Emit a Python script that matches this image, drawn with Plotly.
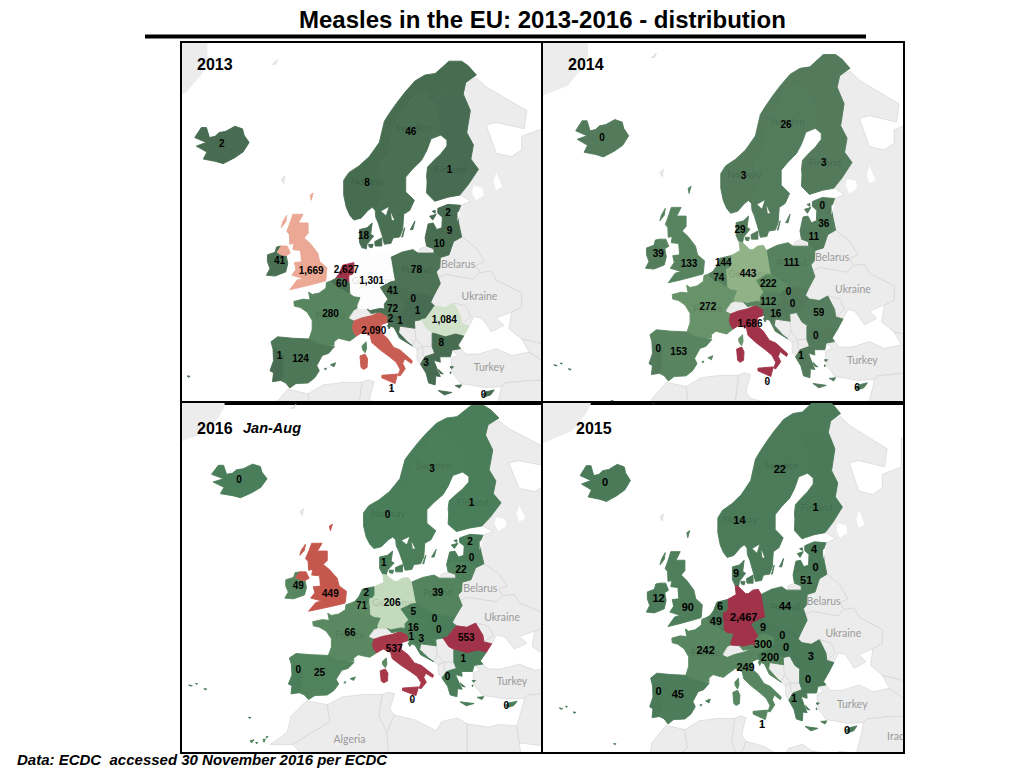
import math
import plotly.graph_objects as go
from plotly.colors import sample_colorscale

TITLE = "Measles in the EU: 2013-2016 - distribution"
SOURCE = "Data: ECDC  accessed 30 November 2016 per ECDC"
YEARS = ["2013", "2014", "2016", "2015"]

COUNTRIES = ["Iceland", "Norway", "Sweden", "Finland", "Denmark", "Estonia", "Latvia", "Lithuania",
             "Poland", "Germany", "Netherlands", "Belgium", "Ireland", "United Kingdom", "France",
             "Spain", "Portugal", "Italy", "Czechia", "Austria", "Slovakia", "Hungary", "Slovenia",
             "Croatia", "Romania", "Bulgaria", "Greece", "Malta", "Cyprus"]
CASES_2013 = [2, 8, 46, 1, 18, 2, 9, 10, 78, 1301, 2627, 60, 41, 1669, 280, 124, 1, 2090, 41, 72, 0, 1, 2, 1, 1084, 8, 3, 1, 0]
CASES_2014 = [0, 3, 26, 3, 29, 0, 36, 11, 111, 443, 144, 74, 39, 133, 272, 153, 0, 1686, 222, 112, 0, 0, None, 16, 59, 0, 1, 0, 6]
CASES_2015 = [0, 14, 22, 1, 9, 4, 0, 51, 44, 2467, 6, 49, 12, 90, 242, 45, 0, 249, 9, 300, 0, 0, None, 200, 3, 0, 1, 1, 0]
CASES_2016 = [0, 0, 3, 1, 1, 2, 0, 22, 39, 206, 2, 71, 49, 449, 66, 25, 0, 537, 5, 16, 0, 0, 1, 3, 553, 1, 0, 0, 0]

LABEL_LON = [-19, 9.6, 18.2, 25.8, 8.9, 25.5, 25.8, 23.8, 19.3, 10.5, 5.5, 4.6, -7.6, -1.4, 2.4, -3.5, -7.6, 10.9, 14.6, 14.6, 18.7, 19.5, 14.2, 16.1, 24.8, 24.2, 21.2, 14.4, 32.5]
LABEL_LAT = [65, 61.6, 66, 62.8, 56.2, 58.7, 56.8, 55.4, 52.4, 51, 52.4, 50.6, 53.4, 52.3, 46.8, 40.4, 40.9, 44.4, 49.8, 47.5, 48.8, 47.2, 46.1, 45.8, 46, 42.7, 39.8, 35.8, 34.8]

NAME_TEXT = ["Sweden", "Norway", "Finland", "Poland", "France", "Germany"]
NAME_LON = [18.5, 9.8, 26.0, 19.3, 2.4, 10.5]
NAME_LAT = [66.3, 61.7, 62.8, 52.4, 46.5, 51.0]
GREY_NAME_TEXT = ["Belarus", "Ukraine", "Turkey", "Algeria", "Libya", "Iraq"]
GREY_NAME_LON = [27.5, 31.7, 33.6, 2.3, 17.1, 42.9]
GREY_NAME_LAT = [53.0, 49.0, 39.0, 28.5, 27.0, 33.9]

# Tableau-style red-green diverging scale, on value / panel maximum
LOW_GREEN = {"2013": "#476c51", "2014": "#527a5b", "2015": "#4a7a58", "2016": "#4a7d59"}
SCALE = [[0.13, "#5b8a62"], [0.26, "#8fb185"], [0.37, "#c2dbbb"],
         [0.42, "#d3e3cc"], [0.5, "#ffffff"], [0.635, "#eba995"], [0.81, "#c5574d"], [1.0, "#a03249"]]

SHAPES = {
    "Iceland": [[(-24.3,65.6),(-23.0,66.4),(-22.0,66.4),(-21.4,65.6),(-20.3,65.7),(-19.5,66.0),(-18.2,66.1),(-16.4,66.5),(-14.9,66.3),(-14.6,65.8),(-13.6,65.2),(-14.8,64.4),(-16.5,63.9),(-18.7,63.4),(-20.2,63.6),(-22.6,63.8),(-21.9,64.4),(-24.0,64.9),(-22.0,65.2)]],
    "Norway": [[(5.0,61.9),(5.0,60.5),(5.5,59.3),(6.2,58.5),(7.0,58.0),(8.4,58.2),(9.8,59.0),(10.6,59.3),(11.2,59.0),(12.3,60.1),(12.6,61.3),(12.1,61.7),(12.2,63.5),(13.9,64.0),(14.1,65.0),(14.5,66.1),(16.4,67.5),(18.2,68.5),(20.1,69.0),(20.6,69.1),(23.7,68.7),(25.7,69.1),(28.5,68.9),(29.0,69.7),(31.1,70.2),(29.5,70.8),(28.2,71.1),(25.7,71.1),(23.0,70.3),(21.0,70.2),(19.0,69.8),(17.0,69.0),(15.5,68.3),(14.0,67.5),(13.0,66.9),(12.0,65.2),(11.0,64.6),(10.0,64.0),(8.0,63.2),(6.0,62.6)]],
    "Sweden": [[(11.2,59.0),(11.3,58.3),(11.8,57.7),(12.6,56.3),(13.0,55.4),(14.3,55.5),(14.7,56.1),(16.0,56.2),(16.6,57.0),(16.8,58.6),(18.0,59.0),(18.9,60.0),(17.2,60.8),(17.2,62.2),(18.5,62.9),(20.3,63.7),(21.3,64.5),(22.2,65.5),(24.1,65.8),(23.7,67.2),(23.5,67.9),(20.6,69.1),(20.1,69.0),(18.2,68.5),(16.4,67.5),(14.5,66.1),(14.1,65.0),(13.9,64.0),(12.2,63.5),(12.1,61.7),(12.6,61.3),(12.3,60.1)],
               [(18.1,57.0),(19.0,57.9),(18.6,57.0)], [(16.4,56.2),(17.0,57.2),(16.6,56.2)]],
    "Finland": [[(24.1,65.8),(25.3,65.4),(25.3,64.9),(24.0,64.2),(23.0,63.8),(21.5,63.1),(21.3,62.3),(21.4,61.8),(21.3,60.7),(22.9,59.9),(25.5,60.3),(27.8,60.5),(29.5,61.5),(31.5,62.9),(30.0,63.8),(30.5,65.0),(29.2,66.0),(29.9,67.7),(28.5,68.9),(25.7,69.1),(23.7,68.7),(20.6,69.1),(23.5,67.9),(23.7,67.2)]],
    "Denmark": [[(8.1,55.6),(8.1,57.0),(9.6,57.2),(10.6,57.7),(10.3,56.5),(10.9,56.3),(9.6,55.4),(9.4,54.8),(8.7,54.9)],
                [(11.1,55.7),(12.5,56.1),(12.5,55.2),(11.2,55.2)],
                [(9.9,55.4),(10.8,55.4),(10.6,55.0),(10.0,55.1)]],
    "Estonia": [[(23.5,59.2),(25.5,59.6),(28.0,59.5),(27.4,58.7),(27.6,57.7),(25.3,57.9),(24.4,58.3),(23.5,58.7)],
                [(21.9,58.4),(23.2,58.6),(22.5,58.0)], [(22.4,58.9),(23.0,59.0),(23.0,58.7)]],
    "Latvia": [[(21.0,56.1),(21.6,57.6),(22.6,57.7),(23.3,57.0),(24.3,57.2),(24.4,58.3),(25.3,57.9),(27.6,57.7),(28.2,56.2),(26.6,55.7),(25.0,56.3),(22.0,56.4)]],
    "Lithuania": [[(21.0,56.1),(22.0,56.4),(25.0,56.3),(26.6,55.7),(25.7,54.2),(24.0,53.9),(22.8,54.4),(22.7,54.9),(21.3,55.2)]],
    "Poland": [[(14.2,53.9),(16.4,54.5),(18.6,54.8),(19.6,54.4),(22.8,54.4),(24.0,53.9),(23.9,52.7),(23.2,52.2),(23.6,51.5),(24.0,50.8),(22.6,49.1),(21.0,49.4),(18.8,49.5),(16.9,50.3),(15.0,51.1),(14.7,52.1),(14.4,53.2)]],
    "Germany": [[(7.0,53.3),(8.0,53.6),(8.9,53.9),(8.7,54.9),(9.4,54.8),(10.9,54.0),(11.5,54.0),(12.4,54.4),(13.6,54.5),(14.2,53.9),(14.4,53.2),(14.7,52.1),(15.0,51.1),(14.3,51.0),(12.2,50.3),(13.7,48.8),(13.0,48.2),(13.0,47.5),(12.2,47.6),(10.2,47.3),(9.6,47.5),(7.6,47.6),(7.6,48.0),(8.2,49.0),(7.0,49.1),(6.2,49.5),(6.1,50.8),(6.0,51.0),(6.0,51.8),(6.7,51.9),(7.0,52.2)]],
    "Netherlands": [[(3.4,51.4),(4.1,52.0),(4.8,53.0),(7.0,53.3),(7.0,52.2),(6.7,51.9),(6.0,51.8),(6.0,51.0),(5.7,50.8),(5.0,51.4),(4.3,51.4)]],
    "Belgium": [[(2.5,51.1),(3.4,51.4),(4.3,51.4),(5.0,51.4),(5.7,50.8),(6.0,51.0),(6.1,50.8),(6.2,49.5),(5.8,49.5),(4.8,50.0),(4.2,50.0),(3.2,50.5),(2.6,50.8)]],
    "Ireland": [[(-10.0,54.2),(-8.5,54.5),(-8.2,55.1),(-7.3,55.2),(-8.1,54.5),(-7.3,54.2),(-6.3,54.1),(-6.0,53.2),(-6.4,52.2),(-8.5,51.7),(-10.2,51.8),(-9.5,52.6),(-10.0,53.4)]],
    "United Kingdom": [[(-5.0,58.6),(-3.0,58.6),(-3.9,57.7),(-2.0,57.7),(-2.0,56.6),(-2.8,56.1),(-1.6,55.5),(-0.1,54.4),(0.3,53.4),(1.7,52.7),(1.5,51.3),(1.4,51.1),(-1.0,50.7),(-3.5,50.3),(-5.6,50.0),(-4.2,51.2),(-3.0,51.4),(-5.2,51.8),(-4.4,52.5),(-4.7,53.3),(-3.3,53.4),(-3.5,54.7),(-5.0,54.8),(-4.8,55.5),(-5.6,55.4),(-5.7,56.5),(-6.2,56.8),(-5.5,57.8)],
                       [(-7.3,55.2),(-6.1,55.2),(-5.5,54.4),(-6.3,54.1),(-7.3,54.2),(-8.1,54.5)],
                       [(-7.0,57.8),(-6.2,58.5),(-6.4,57.8),(-7.3,57.2)], [(-1.4,60.0),(-1.0,60.7),(-1.6,60.5)]],
    "France": [[(2.5,51.1),(2.6,50.8),(3.2,50.5),(4.2,50.0),(4.8,50.0),(5.8,49.5),(6.2,49.5),(7.0,49.1),(8.2,49.0),(7.6,48.0),(7.6,47.6),(7.0,47.4),(6.1,46.5),(6.0,46.2),(7.0,45.9),(6.7,45.0),(7.0,44.3),(7.5,43.8),(6.2,43.1),(5.0,43.3),(4.0,43.5),(3.1,43.0),(3.1,42.5),(1.5,42.5),(0.0,42.7),(-1.8,43.4),(-1.2,44.7),(-1.2,46.0),(-2.2,47.1),(-3.5,47.7),(-4.7,47.9),(-4.8,48.5),(-3.0,48.8),(-1.6,48.7),(-1.9,49.7),(-1.2,49.4),(0.2,49.6),(1.5,50.2),(1.6,50.9)],
               [(9.4,43.0),(9.5,42.0),(9.2,41.4),(8.7,41.9),(8.6,42.4)]],
    "Spain": [[(-9.3,43.0),(-8.0,43.7),(-5.0,43.5),(-1.8,43.4),(0.0,42.7),(1.5,42.5),(3.2,42.3),(2.0,41.3),(0.8,41.0),(-0.3,39.5),(0.2,38.7),(-0.7,37.6),(-2.0,36.8),(-4.4,36.7),(-5.6,36.0),(-6.4,36.8),(-7.4,37.2),(-7.0,38.2),(-7.0,39.7),(-6.8,41.0),(-8.2,41.9),(-8.9,41.9)],
              [(2.4,39.6),(3.4,39.9),(3.1,39.3)], [(1.2,39.0),(1.6,39.1),(1.4,38.8)],
              [(-16.9,28.4),(-16.1,28.6),(-16.6,28.0)], [(-15.8,28.1),(-15.4,28.1),(-15.6,27.8)], [(-14.4,28.7),(-13.9,28.7),(-14.2,28.1)], [(-13.8,29.2),(-13.4,29.2),(-13.7,28.9)]],
    "Portugal": [[(-8.9,41.9),(-8.2,41.9),(-6.8,41.0),(-7.0,39.7),(-7.0,38.2),(-7.4,37.2),(-9.0,37.0),(-8.8,38.4),(-9.5,38.7),(-8.8,40.2)],
                 [(-28.7,38.55),(-28.0,38.4),(-28.5,38.35)], [(-27.4,38.8),(-27.0,38.75),(-27.2,38.6)], [(-25.8,37.9),(-25.2,37.85),(-25.5,37.7)], [(-17.2,32.8),(-16.7,32.8),(-16.9,32.6)]],
    "Italy": [[(7.5,43.8),(7.0,44.3),(6.7,45.0),(7.0,45.9),(8.5,46.3),(10.4,46.6),(12.2,47.1),(13.7,46.5),(13.6,45.7),(12.4,45.4),(12.3,44.3),(13.6,43.5),(14.8,42.2),(16.1,41.8),(18.5,40.2),(18.3,39.8),(17.0,40.5),(16.6,39.8),(17.1,39.0),(16.1,37.9),(15.7,38.0),(16.1,38.9),(15.3,40.0),(14.0,40.8),(12.2,41.8),(10.5,42.9),(10.2,43.9),(8.8,44.4)],
              [(12.5,38.0),(15.6,38.2),(15.1,36.7),(12.5,37.6)],
              [(8.2,40.9),(9.2,41.2),(9.7,40.5),(9.6,39.2),(8.9,38.9),(8.4,39.2)]],
    "Czechia": [[(12.2,50.3),(14.3,51.0),(15.0,51.1),(16.9,50.3),(18.8,49.5),(16.9,48.6),(15.0,49.0),(13.7,48.8)]],
    "Austria": [[(9.6,47.5),(10.2,47.3),(12.2,47.6),(13.0,47.5),(13.0,48.2),(13.7,48.8),(15.0,49.0),(16.9,48.6),(17.1,48.0),(16.1,46.9),(13.7,46.5),(12.2,47.1),(10.4,46.9)]],
    "Slovakia": [[(16.9,48.6),(18.8,49.5),(21.0,49.4),(22.6,49.1),(22.1,48.4),(20.0,48.2),(18.8,47.9),(17.1,48.0)]],
    "Hungary": [[(16.1,46.9),(17.1,48.0),(18.8,47.9),(20.0,48.2),(22.1,48.4),(22.9,47.9),(21.1,46.2),(20.3,46.1),(18.9,45.9),(16.5,46.5)]],
    "Slovenia": [[(13.6,45.7),(13.7,46.5),(16.1,46.9),(16.5,46.5),(15.5,45.8),(13.9,45.5)]],
    "Croatia": [[(13.6,45.3),(13.9,45.5),(15.5,45.8),(16.5,46.5),(18.9,45.9),(19.0,44.9),(16.0,45.2),(15.8,44.3),(17.5,43.0),(18.5,42.4),(16.0,43.5),(14.9,45.0),(14.3,45.2),(13.9,44.8)]],
    "Romania": [[(20.3,46.1),(21.1,46.2),(22.9,47.9),(24.9,47.7),(26.6,48.3),(28.0,46.5),(28.2,45.5),(29.7,45.2),(28.6,43.8),(27.0,44.1),(25.0,43.7),(22.7,44.2),(21.4,44.8)]],
    "Bulgaria": [[(22.4,44.2),(22.7,44.2),(25.0,43.7),(27.0,44.1),(28.6,43.8),(27.5,42.5),(28.0,42.0),(26.3,41.8),(24.0,41.5),(22.9,41.3),(22.4,42.3)]],
    "Greece": [[(20.1,39.7),(21.0,40.8),(22.9,41.3),(24.0,41.5),(26.3,41.8),(26.0,40.8),(23.9,40.8),(24.0,40.0),(22.7,40.3),(23.4,38.9),(24.0,37.8),(23.1,37.9),(23.0,36.5),(21.7,36.8),(21.2,38.3)],
               [(23.6,35.6),(26.3,35.3),(24.8,34.9)], [(25.9,39.3),(26.6,39.3),(26.2,39.0)], [(25.9,38.5),(26.1,38.5),(26.0,38.2)], [(26.9,36.4),(28.2,36.5),(27.8,36.0)], [(23.6,38.9),(24.6,38.2),(24.0,38.3)]],
    "Malta": [[(14.2,36.05),(14.55,35.85),(14.3,35.85)]],
    "Cyprus": [[(32.3,35.0),(33.0,35.4),(34.6,35.7),(33.9,34.9),(32.7,34.6)]],
}

GREY_SHAPES = [
    [(-7.3,62.0),(-6.6,62.3),(-6.8,61.6)],
    [(-9.0,70.9),(-8.0,71.2),(-8.4,70.9)],
    [(28.5,68.9),(29.0,69.7),(31.1,70.0),(33,69.4),(41,67.7),(40.5,66.3),(35,66.8),(33,66.6),(35,64.3),(38,64.0),(40,64.6),(40,65.7),(44,66.3),(44,68.5),(60,69),(60,40),(48,42),(40,43.4),(37.5,44.8),(38,47.1),(40,47.8),(40,49.6),(35,51.2),(34,52.3),(31.8,52.1),(31,53),(32.7,53.4),(31,55),(28.2,56.2),(27.6,57.7),(27.4,58.7),(28.0,59.5),(30,59.9),(28,60.5),(29.5,61.5),(31.5,62.9),(30.0,63.8),(30.5,65.0),(29.2,66.0),(29.9,67.7)],
    [(19.6,54.4),(22.8,54.4),(22.7,54.9),(21.3,55.2),(20.0,54.9)],
    [(24.0,53.9),(23.9,52.7),(23.2,52.2),(23.6,51.5),(25,51.9),(30.5,51.3),(31.8,52.1),(31,53),(32.7,53.4),(31,55),(28.2,56.2),(26.6,55.7),(25.7,54.2)],
    [(23.6,51.5),(25,51.9),(30.5,51.3),(31.8,52.1),(34,52.3),(35,51.2),(40,49.6),(40,47.8),(38,47.1),(35,46.3),(36.5,45.3),(34,44.4),(33,45.5),(32,46.3),(30.7,46.5),(29.7,45.3),(28.2,45.5),(30,46.5),(29,47.9),(26.6,48.3),(24.9,47.7),(22.9,47.9),(22.1,48.4),(22.6,49.1),(24.0,50.8)],
    [(26.6,48.3),(29,47.9),(30,46.5),(28.2,45.5),(28.0,46.5)],
    [(6.0,46.2),(7.6,47.6),(9.6,47.5),(10.4,46.9),(10.4,46.6),(8.5,46.3),(7.0,45.9)],
    [(16.0,45.2),(19.0,44.9),(19.2,43.5),(18.5,42.4),(17.5,43.0),(15.8,44.3)],
    [(19.0,44.9),(18.9,45.9),(20.3,46.1),(21.4,44.8),(22.7,44.2),(22.4,44.2),(22.4,42.3),(20.5,42.3),(19.2,43.5)],
    [(18.5,42.4),(19.2,43.5),(20.5,42.3),(19.4,41.9)],
    [(19.4,41.9),(20.5,42.3),(20.6,41.0),(21.0,40.8),(20.1,39.7),(19.4,40.4)],
    [(20.5,42.3),(22.4,42.3),(22.9,41.3),(21.0,40.8),(20.6,41.0)],
    [(26.3,41.8),(28.0,42.0),(29,41.2),(31.5,41.2),(35,42),(38,41),(41.5,41.5),(44.5,40),(44.5,37.2),(42,37.2),(36.7,36.8),(36,36.2),(32.5,36.1),(30.5,36.4),(28,36.7),(27.3,37.5),(26.3,38.5),(26.2,39.5),(26.1,40.6),(27.5,41.0)],
    [(41.5,41.5),(40,43.4),(48,42),(60,40),(60,37),(44.5,37.2),(44.5,40)],
    [(36,36.2),(36.7,36.8),(42,37.2),(60,37),(60,25),(35,28),(34.5,31.2),(35.7,35)],
    [(-13,27.7),(-9.7,30),(-9,33),(-6,35.8),(-2,35.1),(-1.5,32),(-8.7,27.7)],
    [(-2,35.1),(1,36.5),(5,36.9),(8.6,36.9),(8,33),(9.5,30),(10,24),(12,23),(3,15),(-8.7,27.7),(-1.5,32)],
    [(8.6,36.9),(9.8,37.3),(11,37),(10.3,35),(10.1,34.2),(11,33.2),(9.5,30),(8,33)],
    [(11,33.2),(15,32.3),(19,30.3),(20,32),(23,32.7),(25,31.6),(25,15),(14,15),(12,23),(10,24),(9.5,30)],
    [(25,31.6),(29,31),(31,31.5),(34.5,31.2),(35,28),(37,15),(25,15)],
]
GREENLAND = [(-21.8,71.0),(-23,70.2),(-26,69.0),(-31,68.3),(-34,67.8),(-34,75.0),(-21.8,75.0)]

LAKES = [
    [(31,60),(32.5,60.5),(32.3,61.2),(30.5,61.4),(30.3,60.7)],
    [(35,61),(36.2,61.3),(35,62.6),(34.5,61.8)],
    [(27.4,57.9),(28.0,58.9),(27.4,58.8)],
    [(12.4,58.9),(13.8,59.3),(13.3,58.5)],
    [(14.3,58.7),(14.9,58.0),(14.5,58.0)],
]

VIEWS = {  # lon left/right, Mercator y bottom/top, panel pixel box
    "2013": ([-26.8, 43.8], [35.7, 106.3], (182, 541, 43, 403)),
    "2014": ([-30.9, 41.8], [34.3, 105.0], (543, 903, 43, 403)),
    "2016": ([-30.0, 39.2], [27.2, 103.3], (182, 541, 403, 752)),
    "2015": ([-32.2, 44.4], [33.1, 102.1], (543, 903, 403, 752)),
}
PANEL_CASES = {"2013": CASES_2013, "2014": CASES_2014, "2015": CASES_2015, "2016": CASES_2016}
LABEL_SIZE = {"2013": 10, "2014": 10, "2016": 10, "2015": 11}
W, H = 1024, 768


def merc(lat):
    return math.degrees(math.log(math.tan(math.radians(45 + lat / 2))))


def ring_xy(rings):
    xs, ys = [], []
    for ring in rings:
        for lon, lat in ring + ring[:1]:
            xs.append(lon)
            ys.append(merc(lat))
        xs.append(None)
        ys.append(None)
    return xs, ys


fig = go.Figure()
layout_shapes = [dict(type="line", xref="paper", yref="paper", x0=145 / W, x1=866 / W, y0=1 - 36.5 / H, y1=1 - 36.5 / H,
                      line=dict(color="black", width=4))]
for i, year in enumerate(YEARS):
    ax = "" if i == 0 else str(i + 1)
    xref, yref = "x" + ax, "y" + ax
    xr, yr, (x0, x1, y0, y1) = VIEWS[year]
    fig.update_layout({
        "xaxis" + ax: dict(domain=[x0 / W, x1 / W], range=xr, visible=True, showgrid=False, zeroline=False,
                           showticklabels=False, ticks="", showline=True, mirror=True, linecolor="black",
                           linewidth=2, anchor=yref),
        "yaxis" + ax: dict(domain=[1 - y1 / H, 1 - y0 / H], range=yr, visible=True, showgrid=False, zeroline=False,
                           showticklabels=False, ticks="", showline=True, mirror=True, linecolor="black",
                           linewidth=2, anchor=xref),
    })
    # Greenland runs off the panel corner, so it is an axis-bound path clipped by the subplot
    path = "M " + " L ".join(f"{lon} {merc(lat):.3f}" for lon, lat in GREENLAND) + " Z"
    layout_shapes.append(dict(type="path", path=path, xref=xref, yref=yref, fillcolor="#ececec",
                              line=dict(width=0), layer="below"))
    for ring in GREY_SHAPES:
        gx, gy = ring_xy([ring])
        fig.add_trace(go.Scatter(x=gx, y=gy, mode="lines", fill="toself", fillcolor="#ececec",
                                 line=dict(color="#d2d2d2", width=0.6, simplify=False), hoverinfo="skip", xaxis=xref, yaxis=yref))
    vals = PANEL_CASES[year]
    top = max(v for v in vals if v is not None)
    scale = [[0.0, LOW_GREEN[year]]] + SCALE
    for name, v in zip(COUNTRIES, vals):
        cx, cy = ring_xy(SHAPES[name])
        t = (v or 0) / top
        colour = sample_colorscale(scale, [t], colortype="rgb")[0]
        fig.add_trace(go.Scatter(x=cx, y=cy, mode="lines", fill="toself", fillcolor=colour,
                                 line=dict(color=colour, width=0.9, simplify=False), name=name, text=f"{name}: {v}", hoverinfo="text",
                                 xaxis=xref, yaxis=yref))
    lx, ly = ring_xy(LAKES)
    fig.add_trace(go.Scatter(x=lx, y=ly, mode="lines", fill="toself", fillcolor="white",
                             line=dict(color="white", width=0.2, simplify=False), hoverinfo="skip", xaxis=xref, yaxis=yref))
    grey_keep = [k for k in range(len(GREY_NAME_TEXT))
                 if xr[0] + 2 < GREY_NAME_LON[k] < xr[1] - 1.2 and yr[0] + 1 < merc(GREY_NAME_LAT[k]) < yr[1] - 1]
    fig.add_trace(go.Scatter(x=[GREY_NAME_LON[k] for k in grey_keep], y=[merc(GREY_NAME_LAT[k]) for k in grey_keep],
                             text=[GREY_NAME_TEXT[k] for k in grey_keep], mode="text",
                             textfont=dict(family="Lato, Liberation Sans", size=10.5, color="#9a9a9a"),
                             hoverinfo="skip", xaxis=xref, yaxis=yref))
    fig.add_trace(go.Scatter(x=NAME_LON, y=[merc(a) for a in NAME_LAT], text=NAME_TEXT, mode="text",
                             textfont=dict(family="Lato, Liberation Sans", size=10, color="rgba(0,0,0,0.14)"),
                             hoverinfo="skip", xaxis=xref, yaxis=yref))
    keep = [k for k, v in enumerate(vals) if v is not None]
    fig.add_trace(go.Scatter(x=[LABEL_LON[k] for k in keep], y=[merc(LABEL_LAT[k]) for k in keep],
                             text=[f"{vals[k]:,}" for k in keep], mode="text",
                             textfont=dict(family="Liberation Sans", size=LABEL_SIZE[year], color="black", weight="bold"),
                             hoverinfo="skip", xaxis=xref, yaxis=yref))


def note(text, x, y, size, italic=False, anchor="left"):
    return dict(text=f"<i>{text}</i>" if italic else text, x=x / W, y=1 - y / H, xref="paper", yref="paper",
                xanchor=anchor, yanchor="middle", showarrow=False,
                font=dict(family="Liberation Sans", size=size, color="black", weight="bold"))


fig.update_layout(
    width=W, height=H, margin=dict(l=0, r=0, t=0, b=0), autosize=False,
    paper_bgcolor="white", plot_bgcolor="white", showlegend=False,
    annotations=[
        note(TITLE, 542, 20, 24, anchor="center"),
        note("2013", 195, 65, 16), note("2014", 566, 65, 16), note("2016", 195, 428, 16),
        note("Jan-Aug", 241, 428, 14.5, italic=True), note("2015", 574, 428, 16),
        note(SOURCE, 15, 759, 15, italic=True),
    ],
    shapes=layout_shapes,
)
fig.write_html("out.html", config={"displayModeBar": False}, post_script="document.body.style.margin='0';")
